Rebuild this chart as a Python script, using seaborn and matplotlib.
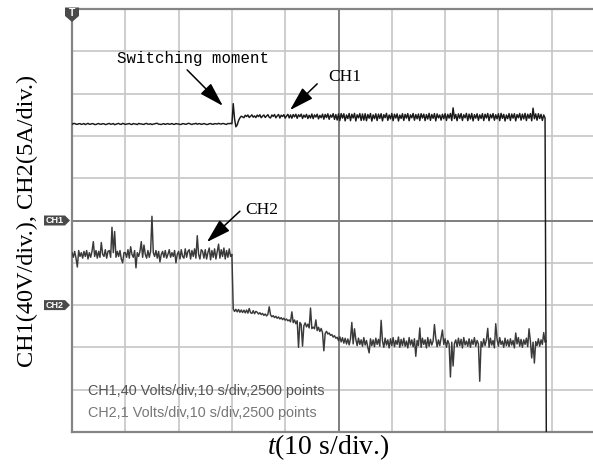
import numpy as np
import pandas as pd
import matplotlib
matplotlib.use("Agg")
import matplotlib.pyplot as plt
import seaborn as sns
from matplotlib.patches import Polygon
from matplotlib.transforms import ScaledTranslation, blended_transform_factory

# ---- acquisition settings -------------------------------------------------
SAMPLE_DT = 0.25         # s between plotted samples (record starts at t = 0)
TIME_PER_DIV = 10.0      # s/div
CH1_PER_DIV = 40.0       # V/div
CH2_PER_DIV = 5.0        # A/div
CH1_REF_DIV = 0.0        # CH1 ground marker (div from screen centre)
CH2_REF_DIV = -2.0       # CH2 ground marker (div from screen centre)

# CH1 : DC bus voltage (V)
ch1_volts = [
    # before switching (0 - 30 s)
    91.0, 91.6, 91.8, 91.1, 90.9, 91.5, 91.6, 90.9, 91.2, 91.7,
    90.7, 91.3, 91.9, 91.0, 91.1, 91.6, 91.5, 90.8, 90.8, 91.4,
    91.7, 91.1, 91.0, 91.6, 91.4, 90.8, 90.9, 91.5, 91.8, 91.0,
    91.2, 91.7, 90.6, 91.1, 91.5, 91.8, 91.1, 90.9, 91.9, 91.4,
    90.9, 91.2, 91.4, 91.7, 91.0, 90.8, 91.7, 91.3, 91.2, 90.7,
    91.8, 91.4, 91.3, 91.0, 90.9, 91.6, 91.8, 91.1, 91.1, 91.5,
    90.7, 91.2, 91.4, 91.8, 91.9, 91.1, 91.0, 90.8, 91.3, 91.6,
    90.8, 91.4, 91.6, 91.0, 91.2, 91.7, 91.0, 90.9, 91.7, 91.3,
    91.3, 90.8, 90.9, 91.6, 91.5, 91.0, 91.1, 91.8, 91.8, 91.2,
    90.8, 91.4, 91.4, 91.9, 91.0, 91.5, 91.6, 90.9, 91.2, 91.7,
    91.3, 90.8, 90.9, 91.5, 91.7, 91.1, 91.0, 91.6, 91.5, 91.2,
    91.9, 91.4, 91.2, 91.7, 91.6, 91.1, 90.9, 91.8, 91.5, 91.9,
    91.4,
    # switching transient
    110.5, 96.0, 88.6, 90.5, 94.5, 97.0, 98.6, 98.0,
    # after switching (32.25 - 87 s)
    97.2, 99.5, 98.3, 99.8, 97.4, 98.6, 99.9, 97.7, 98.9, 97.3,
    99.7, 98.2, 100.0, 97.2, 98.7, 99.8, 97.4, 98.8, 100.1, 97.6,
    97.0, 99.8, 98.4, 100.2, 97.1, 98.9, 100.3, 96.9, 99.6, 98.3,
    100.1, 96.8, 98.8, 100.4, 97.0, 99.9, 96.7, 100.2, 98.0, 100.5,
    96.6, 100.0, 98.2, 100.6, 96.5, 99.7, 97.6, 100.4, 96.4, 99.5,
    96.9, 100.7, 96.3, 99.9, 97.8, 100.5, 96.1, 99.4, 97.2, 100.6,
    95.8, 100.3, 97.3, 100.9, 95.7, 99.8, 97.7, 101.0, 95.6, 100.2,
    95.0, 100.8, 94.5, 101.1, 96.8, 100.9, 94.2, 99.8, 96.4, 101.2,
    94.4, 100.5, 96.9, 101.3, 94.1, 100.0, 97.0, 101.1, 94.6, 100.7,
    94.9, 101.0, 94.3, 100.3, 96.7, 101.2, 94.0, 99.9, 96.3, 100.9,
    94.5, 100.6, 96.6, 101.0, 94.2, 100.1, 97.2, 101.3, 94.7, 99.8,
    96.1, 101.2, 94.4, 100.5, 96.9, 100.8, 94.1, 99.7, 96.5, 101.0,
    94.6, 100.4, 96.8, 101.1, 94.3, 99.9, 97.1, 101.2, 94.8, 100.2,
    96.2, 100.7, 94.5, 101.0, 96.9, 100.6, 94.4, 100.2, 96.0, 101.3,
    94.7, 100.3, 96.6, 101.1, 94.2, 100.8, 97.0, 99.8, 94.9, 100.5,
    96.3, 101.0, 94.6, 100.4, 96.8, 101.2, 94.5, 106.5, 96.4, 100.3,
    94.3, 100.8, 96.7, 101.1, 94.6, 100.0, 97.1, 101.3, 94.4, 100.6,
    96.0, 101.2, 94.2, 100.1, 96.8, 100.9, 94.7, 99.9, 96.5, 101.0,
    94.5, 100.5, 96.9, 101.2, 94.3, 100.3, 97.0, 101.1, 94.8, 100.0,
    96.2, 100.9, 94.4, 101.3, 96.6, 100.4, 94.1, 99.8, 96.3, 101.1,
    94.6, 100.7, 96.8, 101.0, 94.2, 100.2, 97.1, 101.2, 94.9, 100.6,
    96.1, 101.3, 94.5, 100.5, 96.7, 101.1, 94.3, 106.2, 96.2, 100.8,
    # end of record, trace falls off the screen
    94.8, 101.0, 96.4, 100.4, 94.6, 99.8, 97.0, -215.0,
]

# CH2 : current (A)
ch2_amps = [
    # before switching (0 - 30 s)
    6.2, 5.65, 6.35, 5.55, 4.5, 6.45, 5.75, 6.2, 5.55, 6.35,
    5.75, 6.45, 5.45, 6.2, 5.65, 6.35, 7.5, 5.75, 6.45, 5.55,
    6.35, 5.65, 7.4, 6.0, 5.75, 6.55, 5.55, 6.35, 6.45, 5.65,
    9.2, 6.2, 8.7, 5.65, 6.35, 5.75, 6.45, 5.45, 5.0, 6.2,
    6.2, 5.65, 6.55, 5.55, 6.9, 6.0, 5.65, 6.45, 4.4, 6.2,
    5.75, 6.35, 7.5, 5.65, 7.1, 6.0, 5.55, 6.45, 5.65, 6.35,
    10.5, 6.2, 5.75, 6.45, 5.55, 6.35, 5.1, 6.0, 6.35, 5.65,
    6.45, 5.55, 6.0, 6.55, 5.65, 6.2, 5.75, 6.45, 5.0, 6.0,
    6.35, 5.45, 6.55, 5.75, 5.55, 6.65, 5.65, 6.35, 6.55, 5.45,
    6.45, 5.75, 6.65, 5.55, 8.2, 6.0, 5.45, 6.55, 6.35, 5.55,
    6.55, 5.45, 6.2, 6.75, 5.35, 6.45, 5.65, 6.65, 5.45, 6.35,
    7.2, 5.55, 6.55, 5.75, 6.75, 5.45, 6.45, 5.65, 6.65, 5.75,
    6.0,
    # after switching (30.25 - 89 s)
    -0.45, -0.75, -0.50, -0.80, -0.52, -0.85, -0.58, -0.88,
    -0.60, -0.92, -0.58, -0.95, -0.40, -0.90, -0.98, -0.66, -1.02, -0.74,
    -0.85, -1.06, -0.90, -1.12, -0.98, -1.22, -1.05, -1.28, -1.10, -0.20,
    -1.15, -1.38, -1.25, -1.48, -1.32, -1.56, -1.40, -1.64, -1.48, -1.72,
    -1.55, -1.78, -1.65, -1.86, -1.75, -1.98, -0.80, -2.08, -1.76, -2.20,
    -1.85, -5.00, -2.05, -2.28, -4.85, -2.45, -2.10, -2.58, -2.25, -2.70,
    -0.35, -2.78, -2.60, -2.80, -1.75, -3.02, -2.62, -3.12, -2.76, -3.25,
    -5.40, -3.35, -3.10, -3.42, -3.30, -3.58, -3.48, -3.78, -3.62, -3.92,
    -3.80, -4.20, -3.75, -4.35, -3.85, -4.50, -3.92, -4.60, -4.00, -4.70,
    -3.98, -2.05, -4.59, -2.80, -4.05, -4.79, -3.91, -4.65, -4.11, -4.86,
    -3.84, -4.72, -4.18, -4.99, -5.65, -3.98, -4.79, -4.11, -4.92, -3.91,
    -4.65, -4.05, -4.86, -1.80, -4.25, -4.99, -3.91, -4.72, -4.11, -5.06,
    -3.98, -4.79, -3.84, -4.92, -4.18, -4.65, -3.77, -4.99, -4.05, -4.79,
    -3.91, -4.86, -4.25, -5.06, -3.84, -4.72, -4.11, -4.92, -3.98, -6.05,
    -4.18, -4.79, -2.70, -4.99, -3.91, -4.65, -4.11, -5.06, -3.84, -4.86,
    -4.05, -4.72, -4.25, -2.30, -3.91, -4.92, -4.11, -4.79, -3.84, -2.95,
    -4.65, -3.98, -4.99, -4.18, -4.59, -8.50, -4.38, -7.20, -4.52, -4.11,
    -4.92, -3.91, -4.79, -4.05, -5.06, -3.84, -4.72, -4.25, -4.86, -3.98,
    -4.99, -4.11, -4.65, -3.84, -4.86, -4.18, -4.59, -9.00, -4.31, -4.92,
    -3.98, -4.79, -4.11, -2.75, -4.99, -3.91, -4.72, -4.18, -5.06, -2.20,
    -4.05, -4.86, -3.84, -4.65, -4.25, -4.99, -3.91, -4.79, -4.11, -4.92,
    -3.98, -4.72, -4.18, -5.06, -3.30, -4.59, -3.84, -4.86, -4.05, -4.99,
    -4.11, -4.65, -3.91, -4.92, -2.80, -4.25, -6.25, -4.38, -6.85, -4.31,
    -4.79, -3.98, -4.86, -4.11, -4.65, -3.25, -4.38, -4.25,
]

# scope read-out lines printed on the screen
scope_info = [
    "CH1,40 Volts/div,10 s/div,2500 points",
    "CH2,1 Volts/div,10 s/div,2500 points",
]

# ---- build the screen-division frame ---------------------------------------
t = SAMPLE_DT * np.arange(len(ch1_volts))
df = pd.DataFrame({
    "t": t,
    "ch1": np.asarray(ch1_volts) / CH1_PER_DIV + CH1_REF_DIV,
    "ch2": np.asarray(ch2_amps) / CH2_PER_DIV + CH2_REF_DIV,
})

sns.set_theme(style="white")
plt.rcParams["font.family"] = ["Liberation Serif", "DejaVu Serif"]
plt.rcParams["mathtext.fontset"] = "custom"
plt.rcParams["mathtext.rm"] = "Liberation Serif"
plt.rcParams["mathtext.it"] = "Liberation Serif:italic"

fig = plt.figure(figsize=(5.93, 4.66), dpi=100)
# the screen is 10 x 10 divisions; its right edge runs past the figure
ax = fig.add_axes([72 / 593, 34 / 466, 533 / 593, 423 / 466])
ax.set_xlim(0, 10 * TIME_PER_DIV)
ax.set_ylim(-5, 5)

# graticule
ax.set_xticks(np.arange(0, 10 * TIME_PER_DIV + 1, TIME_PER_DIV))
ax.set_yticks(np.arange(-5, 6, 1))
ax.tick_params(length=0, labelbottom=False, labelleft=False)
ax.grid(True, color="#c6c6c6", linewidth=1.2)
ax.axvline(5 * TIME_PER_DIV, color="#7f7f7f", linewidth=1.4, zorder=1)
ax.axhline(0, color="#7f7f7f", linewidth=1.4, zorder=1)
for side in ("left", "bottom", "top"):
    ax.spines[side].set_color("#858585")
    ax.spines[side].set_linewidth(1.6)
ax.spines["right"].set_visible(False)
ax.set_axisbelow(True)

# traces
sns.lineplot(data=df, x="t", y="ch2", ax=ax, color="#3a3a3a", linewidth=1.05,
             sort=False, estimator=None, zorder=3)
sns.lineplot(data=df, x="t", y="ch1", ax=ax, color="#1a1a1a", linewidth=1.05,
             sort=False, estimator=None, zorder=4)
ax.set_xlabel("")
ax.set_ylabel("")


# ---- channel / trigger tags on the screen edge -----------------------------
def screen_tag(anchor, verts_px, label, text_px, size):
    tr = fig.dpi_scale_trans + ScaledTranslation(*anchor)
    ax.add_patch(Polygon(np.asarray(verts_px) / 100.0, closed=True,
                         transform=tr, facecolor="#4a4a4a", edgecolor="none",
                         clip_on=False, zorder=6))
    ax.text(text_px[0] / 100.0, text_px[1] / 100.0, label, transform=tr,
            ha="center", va="center", color="white", fontsize=size,
            fontweight="bold", family="Liberation Sans", clip_on=False,
            zorder=7)


left_edge = blended_transform_factory(ax.transAxes, ax.transData)
ch_shape = [(-28, -5), (-7, -5), (-2, 0), (-7, 5), (-28, 5)]
screen_tag((0, CH1_REF_DIV, left_edge), ch_shape, "CH1", (-17, 0), 6.5)
screen_tag((0, CH2_REF_DIV, left_edge), ch_shape, "CH2", (-17, 0), 6.5)
screen_tag((0, 1, ax.transAxes),
           [(-7, 1.5), (7, 1.5), (7, -7), (0, -13), (-7, -7)],
           "T", (0, -4), 7.5)

# ---- annotations ------------------------------------------------------------
arrow = dict(arrowstyle="-|>,head_length=1.5,head_width=0.45",
             mutation_scale=10, color="black", linewidth=1.1,
             shrinkA=0, shrinkB=0)

ax.text(8.4, 3.84, "Switching moment", family="Liberation Mono",
        fontsize=11.3, ha="left", va="center", color="black", zorder=8)
ax.annotate("", xy=(28.3, 2.71), xytext=(21.6, 3.56), arrowprops=arrow,
            zorder=8)

ax.text(48.0, 3.39, "CH1", fontsize=12.5, ha="left", va="center",
        color="black", zorder=8)
ax.annotate("", xy=(40.9, 2.61), xytext=(46.0, 3.23), arrowprops=arrow,
            zorder=8)

ax.text(32.5, 0.25, "CH2", fontsize=12.5, ha="left", va="center",
        color="black", zorder=8)
ax.annotate("", xy=(25.3, -0.51), xytext=(31.5, 0.22), arrowprops=arrow,
            zorder=8)

ax.text(3.0, -4.04, scope_info[0], family="Liberation Sans", fontsize=10.4,
        ha="left", va="center", color="#555555", zorder=8)
ax.text(3.0, -4.55, scope_info[1], family="Liberation Sans", fontsize=10.4,
        ha="left", va="center", color="#777777", zorder=8)

# ---- axis titles ------------------------------------------------------------
fig.text(328.5 / 593, 1 - 447 / 466, r"$\mathit{t}$(10 s/div.)", fontsize=20,
         ha="center", va="center", color="black")
fig.text(27 / 593, 1 - 220.5 / 466, "CH1(40V/div.), CH2(5A/div.)",
         fontsize=17.5, rotation=90, ha="center", va="center", color="black")

fig.savefig("out.png", dpi=100)
